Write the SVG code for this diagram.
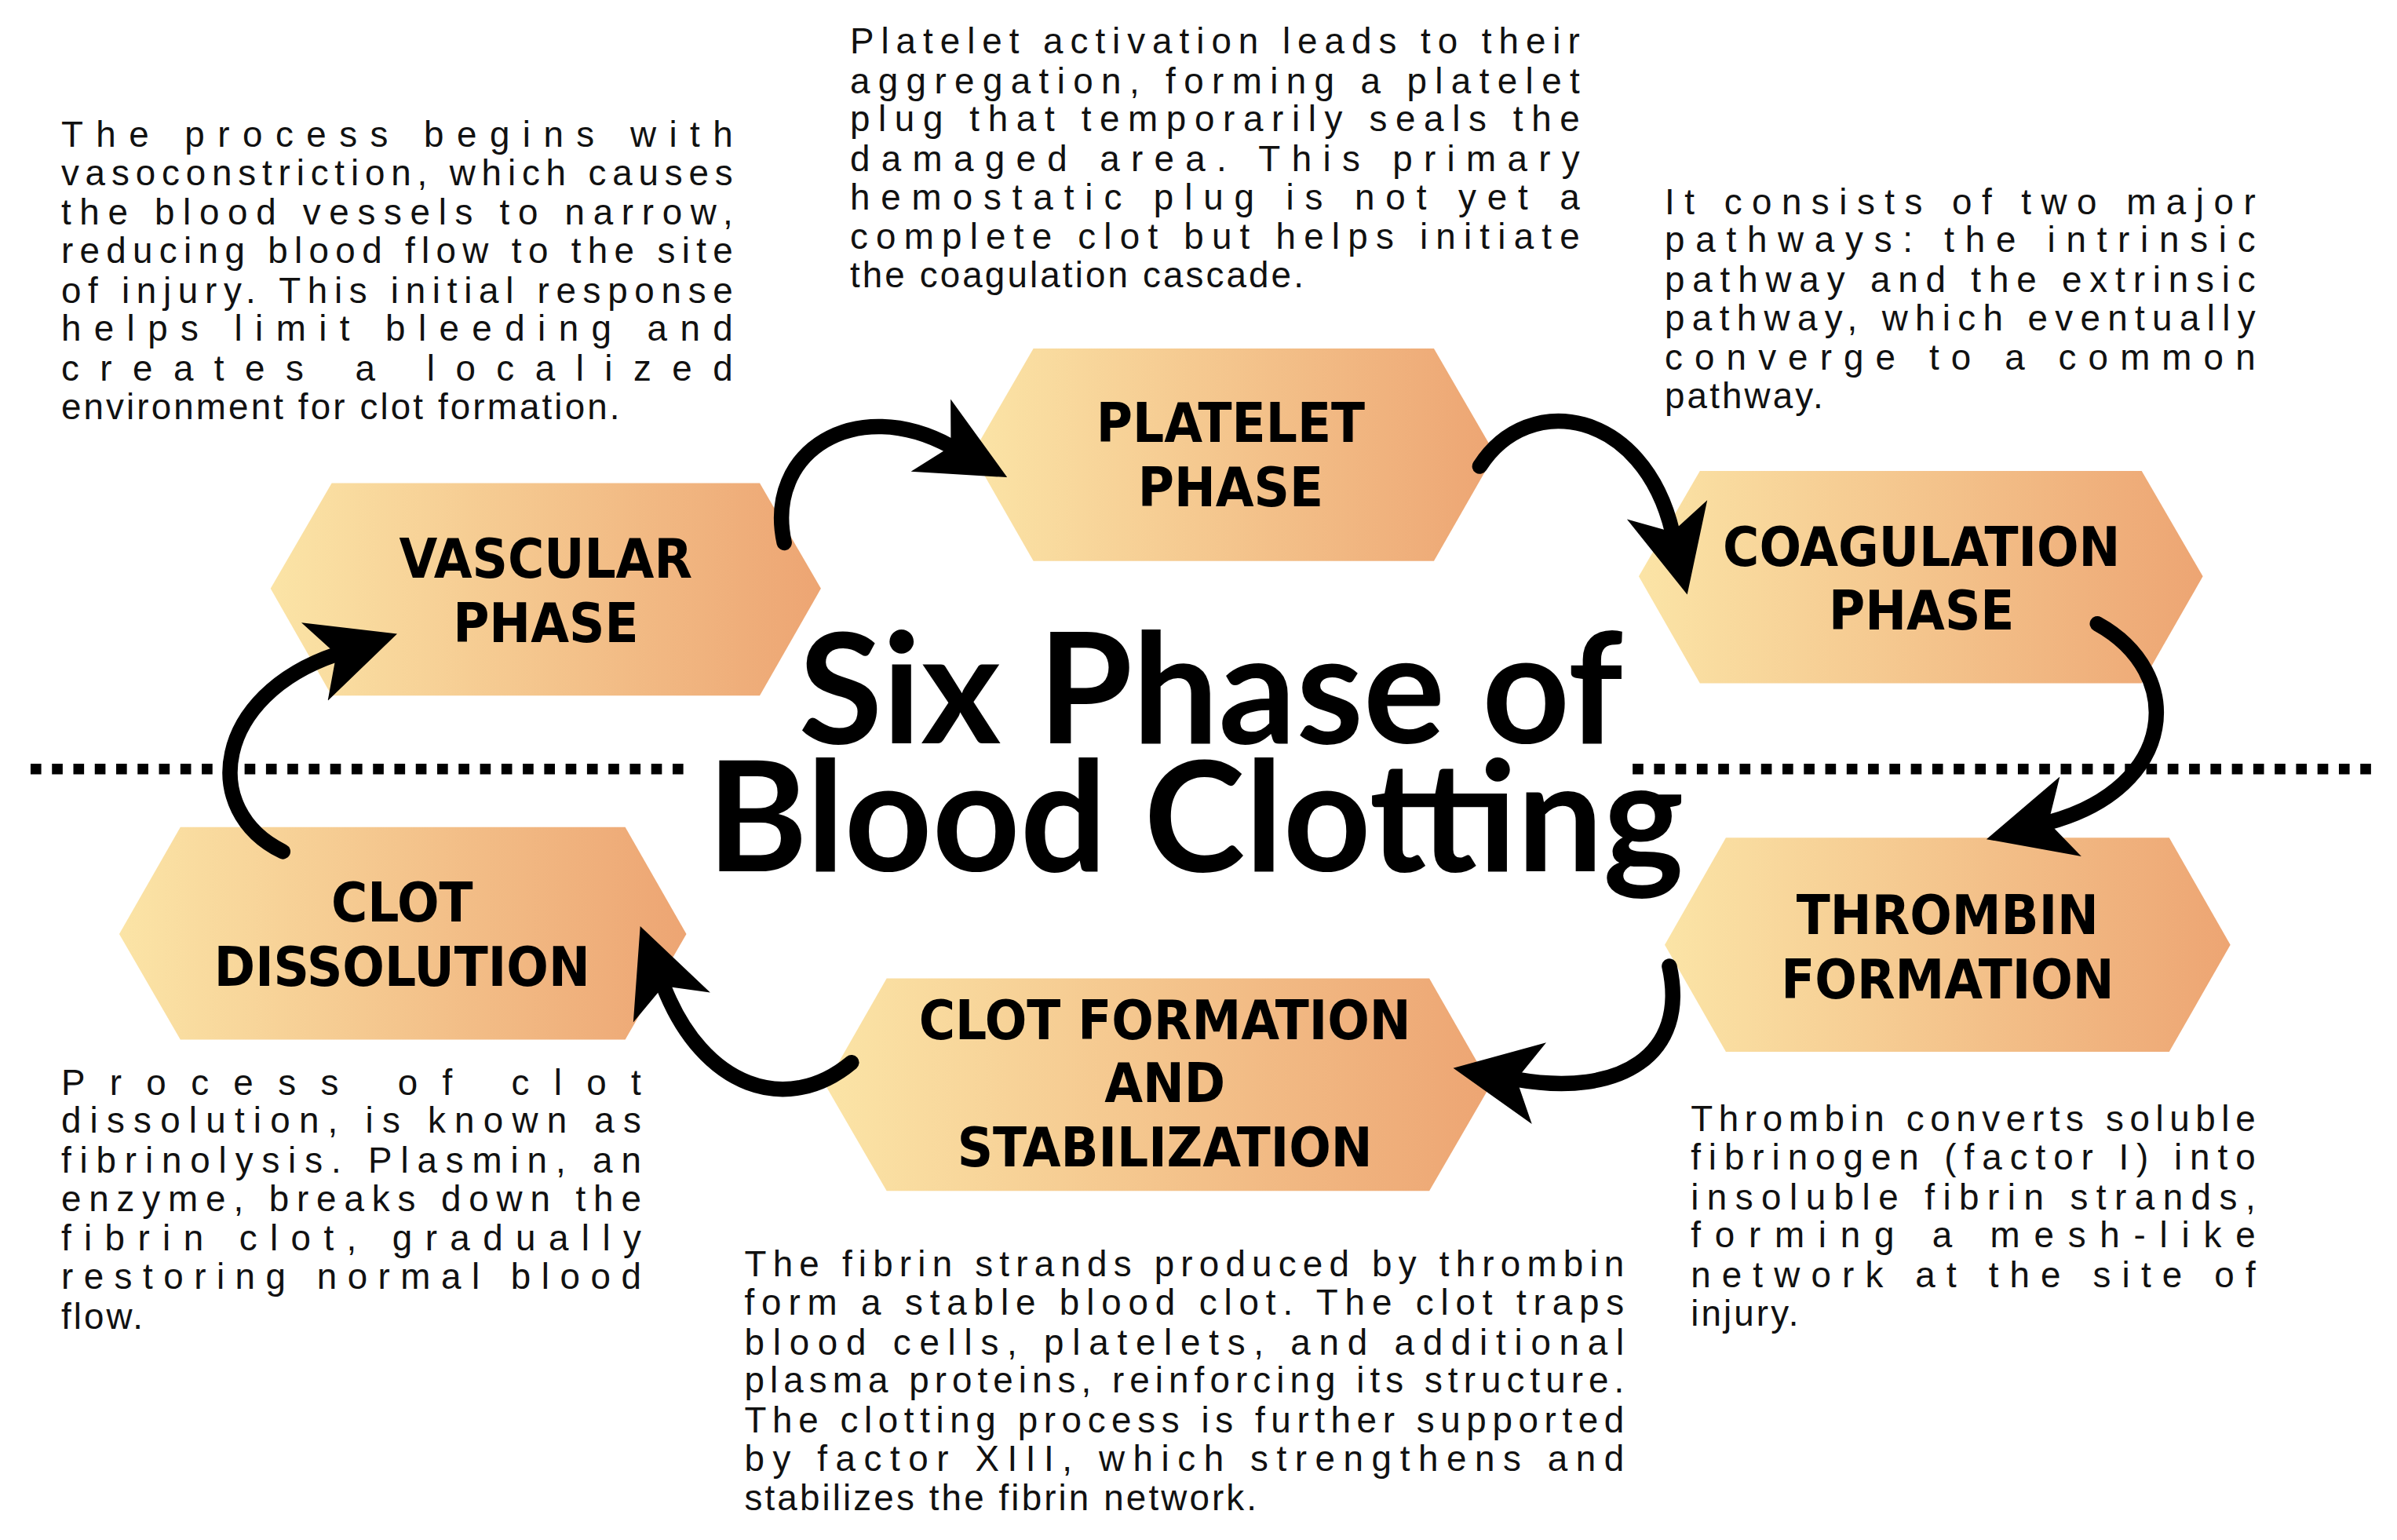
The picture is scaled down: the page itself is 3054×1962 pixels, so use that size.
<svg xmlns="http://www.w3.org/2000/svg" width="3054" height="1962" viewBox="0 0 3054 1962">
<style>
.b{font-family:"Liberation Sans",Arial,sans-serif;font-size:23.5px;letter-spacing:1.6px;fill:#111}
.l{font-family:"DejaVu Sans Condensed","DejaVu Sans",sans-serif;font-weight:bold;font-size:36px;fill:#000;text-anchor:middle}
.t{font-family:"Lato","Noto Sans",sans-serif;font-weight:bold;font-size:100px;fill:#000;text-anchor:middle}
.a{fill:none;stroke:#000;stroke-width:10;stroke-linecap:round}
.d{stroke:#000;stroke-width:7;stroke-dasharray:7 7}
</style>
<defs>
<linearGradient id="g"><stop offset="0" stop-color="#fbe4a6"/><stop offset="1" stop-color="#eda573"/></linearGradient>
<marker id="m" markerUnits="userSpaceOnUse" markerWidth="60" markerHeight="60" refX="10" refY="20" orient="auto" viewBox="0 0 40 40"><path d="M0,2 L38,20 L0,38 L10,20 Z" fill="#000"/></marker>
</defs>
<rect width="3054" height="1962" fill="#fff"/>
<g transform="scale(1.9477)">
<line class="d" x1="20" y1="503" x2="447" y2="503"/>
<line class="d" x1="1068" y1="503" x2="1552" y2="503"/>
<g id="vascular"><polygon points="177,385 217,316 497,316 537,385 497,455 217,455" fill="url(#g)"/><text class="l" x="357" y="378">VASCULAR</text><text class="l" x="357" y="420">PHASE</text></g>
<g id="platelet"><polygon points="636,297 676,228 938,228 978,297 938,367 676,367" fill="url(#g)"/><text class="l" x="805" y="289">PLATELET</text><text class="l" x="805" y="331">PHASE</text></g>
<g id="coagulation"><polygon points="1072,377 1112,308 1401,308 1441,377 1401,447 1112,447" fill="url(#g)"/><text class="l" x="1257" y="370">COAGULATION</text><text class="l" x="1257" y="412">PHASE</text></g>
<g id="thrombin"><polygon points="1089,618 1129,548 1419,548 1459,618 1419,688 1129,688" fill="url(#g)"/><text class="l" x="1274" y="611">THROMBIN</text><text class="l" x="1274" y="653">FORMATION</text></g>
<g id="clotformation"><polygon points="540,710 580,640 935,640 975,710 935,779 580,779" fill="url(#g)"/><text class="l" x="762" y="680">CLOT FORMATION</text><text class="l" x="762" y="721">AND</text><text class="l" x="762" y="763">STABILIZATION</text></g>
<g id="dissolution"><polygon points="78,611 118,541 409,541 449,611 409,680 118,680" fill="url(#g)"/><text class="l" x="263" y="603">CLOT</text><text class="l" x="263" y="645">DISSOLUTION</text></g>
<g id="title"><text class="t" x="792" y="486">Six Phase of</text><text class="t" x="782" y="570">Blood Clotting</text></g>
<g id="connectors">
<path class="a" d="M513,355 C500,295 560,258 622,292" marker-end="url(#m)"/>
<path class="a" d="M968,305 C1000,255 1075,268 1094,348" marker-end="url(#m)"/>
<path class="a" d="M1372,408 C1430,440 1425,515 1340,538" marker-end="url(#m)"/>
<path class="a" d="M1092,632 C1105,690 1060,718 992,706" marker-end="url(#m)"/>
<path class="a" d="M557,695 C515,730 460,712 434,645" marker-end="url(#m)"/>
<path class="a" d="M185,557 C130,530 140,455 220,428" marker-end="url(#m)"/>
</g>
<g id="text-vascular" class="b">
<text x="40" y="96" textLength="441" lengthAdjust="spacing">The process begins with</text>
<text x="40" y="121" textLength="441" lengthAdjust="spacing">vasoconstriction, which causes</text>
<text x="40" y="147" textLength="441" lengthAdjust="spacing">the blood vessels to narrow,</text>
<text x="40" y="172" textLength="441" lengthAdjust="spacing">reducing blood flow to the site</text>
<text x="40" y="198" textLength="441" lengthAdjust="spacing">of injury. This initial response</text>
<text x="40" y="223" textLength="441" lengthAdjust="spacing">helps limit bleeding and</text>
<text x="40" y="249" textLength="441" lengthAdjust="spacing">creates a localized</text>
<text x="40" y="274">environment for clot formation.</text>
</g>
<g id="text-platelet" class="b">
<text x="556" y="35" textLength="479" lengthAdjust="spacing">Platelet activation leads to their</text>
<text x="556" y="61" textLength="479" lengthAdjust="spacing">aggregation, forming a platelet</text>
<text x="556" y="86" textLength="479" lengthAdjust="spacing">plug that temporarily seals the</text>
<text x="556" y="112" textLength="479" lengthAdjust="spacing">damaged area. This primary</text>
<text x="556" y="137" textLength="479" lengthAdjust="spacing">hemostatic plug is not yet a</text>
<text x="556" y="163" textLength="479" lengthAdjust="spacing">complete clot but helps initiate</text>
<text x="556" y="188">the coagulation cascade.</text>
</g>
<g id="text-coagulation" class="b">
<text x="1089" y="140" textLength="388" lengthAdjust="spacing">It consists of two major</text>
<text x="1089" y="165" textLength="388" lengthAdjust="spacing">pathways: the intrinsic</text>
<text x="1089" y="191" textLength="388" lengthAdjust="spacing">pathway and the extrinsic</text>
<text x="1089" y="216" textLength="388" lengthAdjust="spacing">pathway, which eventually</text>
<text x="1089" y="242" textLength="388" lengthAdjust="spacing">converge to a common</text>
<text x="1089" y="267">pathway.</text>
</g>
<g id="text-dissolution" class="b">
<text x="40" y="716" textLength="381" lengthAdjust="spacing">Process of clot</text>
<text x="40" y="741" textLength="381" lengthAdjust="spacing">dissolution, is known as</text>
<text x="40" y="767" textLength="381" lengthAdjust="spacing">fibrinolysis. Plasmin, an</text>
<text x="40" y="792" textLength="381" lengthAdjust="spacing">enzyme, breaks down the</text>
<text x="40" y="818" textLength="381" lengthAdjust="spacing">fibrin clot, gradually</text>
<text x="40" y="843" textLength="381" lengthAdjust="spacing">restoring normal blood</text>
<text x="40" y="869">flow.</text>
</g>
<g id="text-clotformation" class="b">
<text x="487" y="835" textLength="577" lengthAdjust="spacing">The fibrin strands produced by thrombin</text>
<text x="487" y="860" textLength="577" lengthAdjust="spacing">form a stable blood clot. The clot traps</text>
<text x="487" y="886" textLength="577" lengthAdjust="spacing">blood cells, platelets, and additional</text>
<text x="487" y="911" textLength="577" lengthAdjust="spacing">plasma proteins, reinforcing its structure.</text>
<text x="487" y="937" textLength="577" lengthAdjust="spacing">The clotting process is further supported</text>
<text x="487" y="962" textLength="577" lengthAdjust="spacing">by factor XIII, which strengthens and</text>
<text x="487" y="988">stabilizes the fibrin network.</text>
</g>
<g id="text-thrombin" class="b">
<text x="1106" y="740" textLength="371" lengthAdjust="spacing">Thrombin converts soluble</text>
<text x="1106" y="765" textLength="371" lengthAdjust="spacing">fibrinogen (factor I) into</text>
<text x="1106" y="791" textLength="371" lengthAdjust="spacing">insoluble fibrin strands,</text>
<text x="1106" y="816" textLength="371" lengthAdjust="spacing">forming a mesh-like</text>
<text x="1106" y="842" textLength="371" lengthAdjust="spacing">network at the site of</text>
<text x="1106" y="867">injury.</text>
</g>
</g>
</svg>
